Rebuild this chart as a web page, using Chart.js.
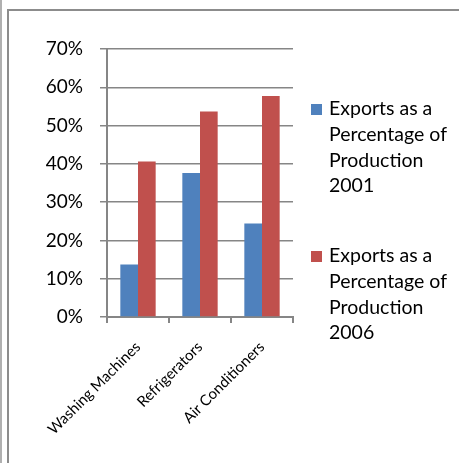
<!DOCTYPE html>
<html><head><meta charset="utf-8">
<script src="https://cdn.jsdelivr.net/npm/chart.js@4/dist/chart.umd.min.js"></script>
<style>html,body{margin:0;padding:0;background:#fff}#wrap{position:relative;width:459px;height:463px}</style>
</head><body><div id="wrap"><canvas id="c" width="459" height="463"></canvas></div>
<script>
const categories = ["Washing Machines", "Refrigerators", "Air Conditioners"];
const series2001 = [13.7, 37.6, 24.4];
const series2006 = [40.6, 53.7, 57.7];
const seriesLabels = ["Exports as a Percentage of Production 2001", "Exports as a Percentage of Production 2006"];
const yTickValues = [0, 10, 20, 30, 40, 50, 60, 70];

const FONT = "Lato, 'Liberation Sans', sans-serif";
const GRID = '#868686';

const framePlugin = {
  id: 'frame',
  beforeDraw(chart) {
    const ctx = chart.ctx;
    ctx.save();
    ctx.fillStyle = '#ffffff';
    ctx.fillRect(0, 0, chart.width, chart.height);
    ctx.fillStyle = '#b0b0b0';
    ctx.fillRect(0, 0, 2, chart.height);
    ctx.fillStyle = '#8c8c8c';
    ctx.fillRect(7, 9, 2, chart.height - 9);
    ctx.fillRect(7, 9, chart.width - 7, 2);
    ctx.restore();
  }
};

function wrapText(ctx, text, maxW) {
  const words = text.split(' ');
  const lines = [];
  let cur = '';
  for (const w of words) {
    const t = cur ? cur + ' ' + w : w;
    if (cur && ctx.measureText(t).width > maxW) { lines.push(cur); cur = w; }
    else cur = t;
  }
  if (cur) lines.push(cur);
  return lines;
}

const legendPlugin = {
  id: 'sideLegend',
  afterDraw(chart) {
    const ctx = chart.ctx;
    const firstLineY = [109, 256];
    const lh = 25.7;
    ctx.save();
    ctx.font = '19.5px ' + FONT;
    ctx.textBaseline = 'middle';
    ctx.textAlign = 'left';
    chart.data.datasets.forEach((ds, i) => {
      const y0 = firstLineY[i];
      ctx.fillStyle = ds.backgroundColor;
      ctx.fillRect(311, y0 - 5, 11, 11);
      ctx.fillStyle = '#000';
      const lines = wrapText(ctx, ds.label, 128);
      lines.forEach((ln, k) => ctx.fillText(ln, 329, y0 + k * lh));
    });
    ctx.restore();
  }
};

new Chart(document.getElementById('c'), {
  type: 'bar',
  data: {
    labels: categories,
    datasets: [
      { label: seriesLabels[0], data: series2001, backgroundColor: '#4F81BD', categoryPercentage: 0.57, barPercentage: 1 },
      { label: seriesLabels[1], data: series2006, backgroundColor: '#C0504D', categoryPercentage: 0.57, barPercentage: 1 }
    ]
  },
  options: {
    responsive: false,
    animation: false,
    devicePixelRatio: 1,
    layout: { padding: { left: 0, top: 49, right: 166, bottom: 0 } },
    plugins: { legend: { display: false }, tooltip: { enabled: false } },
    scales: {
      x: {
        afterFit(s) { s.height = 146; },
        grid: { display: true, drawOnChartArea: false, drawTicks: true, tickLength: 6, color: GRID, lineWidth: 2, offset: true },
        border: { display: true, color: GRID, width: 2 },
        ticks: { minRotation: 45, maxRotation: 45, autoSkip: false, color: '#000', font: { family: FONT, size: 15 }, padding: 15 }
      },
      y: {
        min: 0, max: 70,
        afterFit(s) { s.width = 107; },
        afterBuildTicks(s) { s.ticks = yTickValues.map(v => ({ value: v })); },
        grid: { color: GRID, lineWidth: 1.5, drawTicks: true, tickLength: 7 },
        border: { display: true, color: GRID, width: 2 },
        ticks: { color: '#000', font: { family: FONT, size: 19 }, padding: 17, callback: v => v + '%' }
      }
    }
  },
  plugins: [framePlugin, legendPlugin]
});
</script></body></html>
